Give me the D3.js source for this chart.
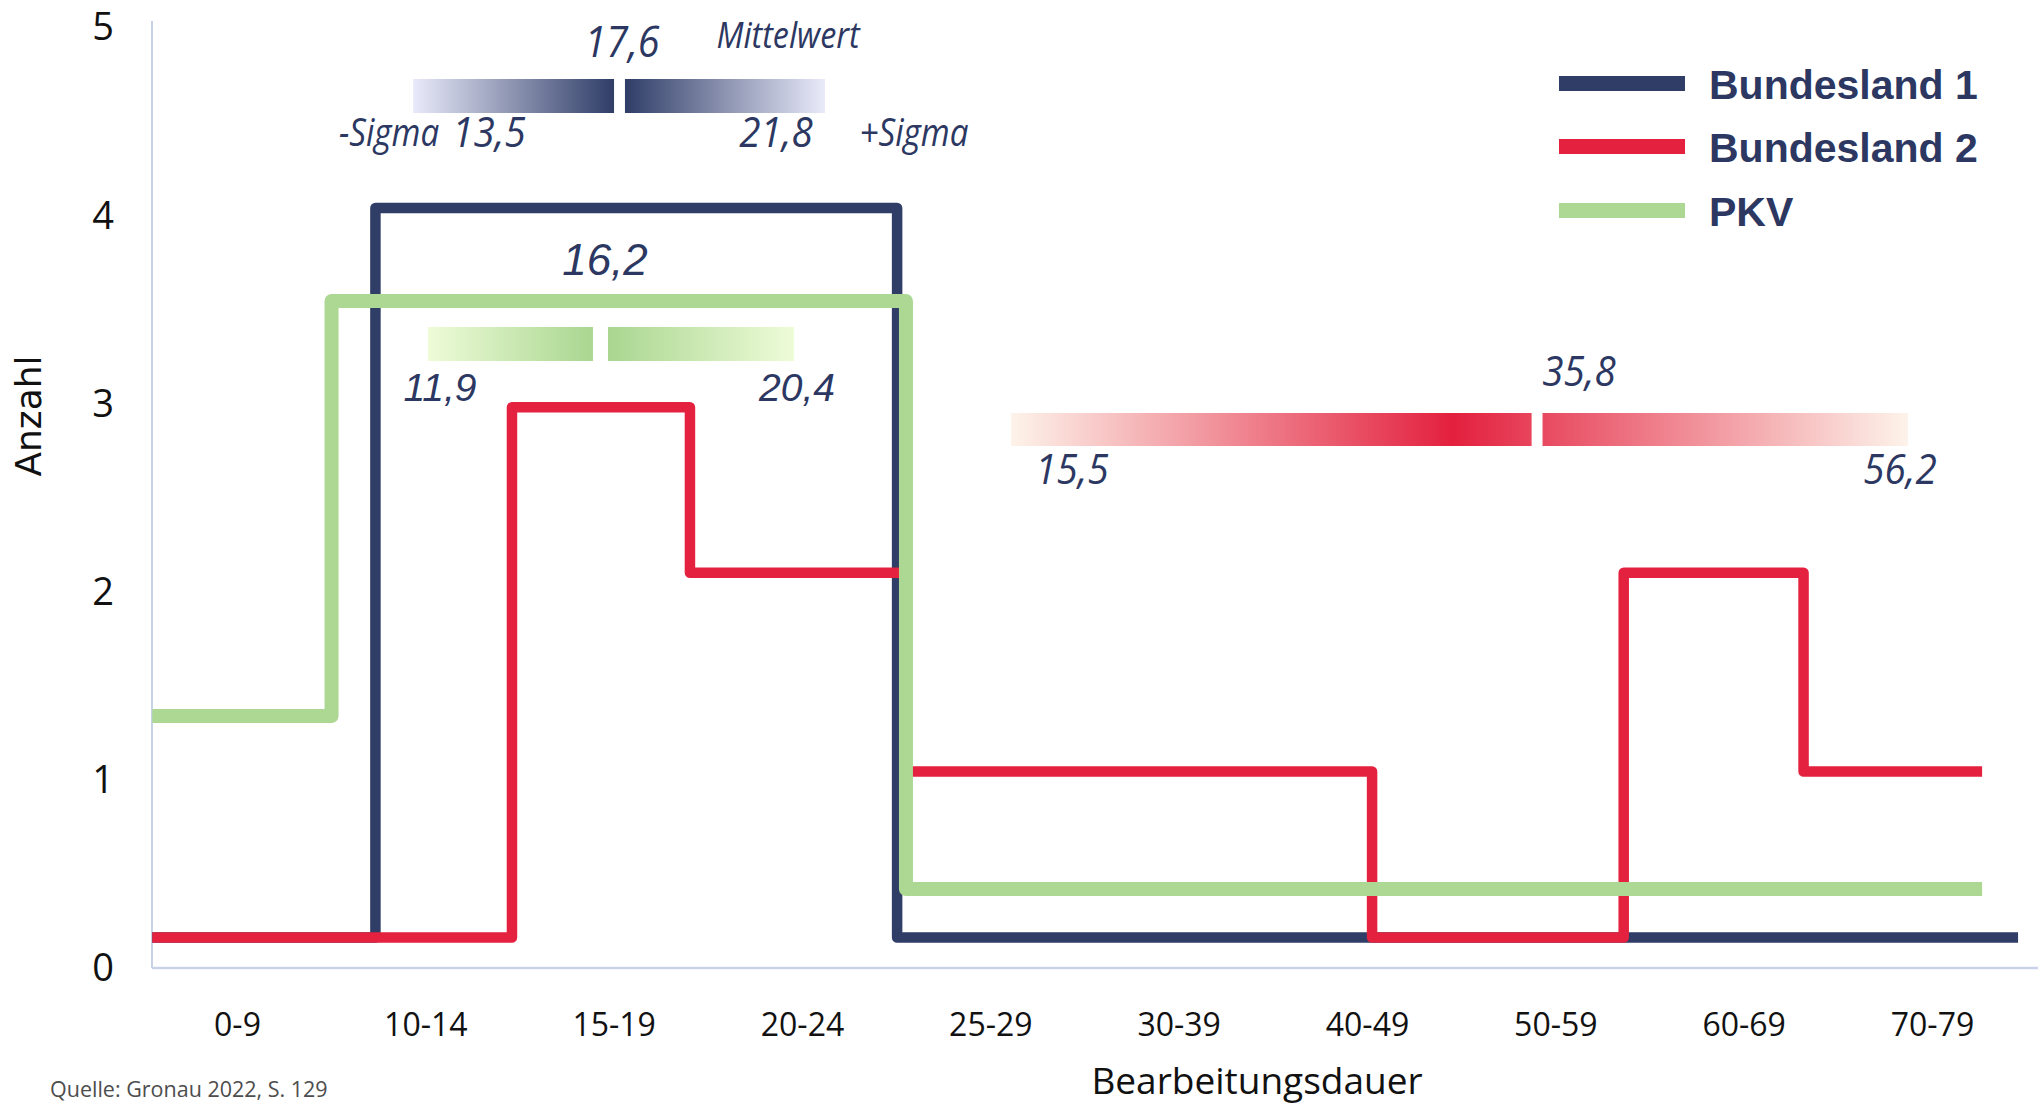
<!DOCTYPE html>
<html>
<head>
<meta charset="utf-8">
<script src="https://cdn.jsdelivr.net/npm/d3@7"></script>
<style>
html,body{margin:0;padding:0;background:#fff;}
svg{display:block;}
</style>
</head>
<body>
<svg id="chart" width="2038" height="1106"></svg>
<script>
// ---------------- DATA ----------------
const categories = ["0-9","10-14","15-19","20-24","25-29","30-39","40-49","50-59","60-69","70-79"];
const yTicks = [0,1,2,3,4,5];
const seriesNames = ["Bundesland 1","Bundesland 2","PKV"];

// Step series: breakpoints in category-index units (0 = "0-9", 9 = "70-79"), one level per segment
const bl1Breaks = [-0.45, 0.735, 3.505, 9.457];
const bl1Levels = [0.162, 4.038, 0.162];
const bl2Breaks = [-0.45, 1.46, 2.405, 3.552, 6.027, 7.363, 8.318, 9.266];
const bl2Levels = [0.162, 2.98, 2.10, 1.044, 0.162, 2.10, 1.044];
const pkvBreaks = [-0.45, 0.502, 3.552, 9.266];
const pkvLevels = [1.339, 3.544, 0.42];

// Mean / sigma annotations
const sigmaSeries = ["Bundesland 1","PKV","Bundesland 2"];
const sigmaMean = ["17,6","16,2","35,8"];
const sigmaLow  = ["13,5","11,9","15,5"];
const sigmaHigh = ["21,8","20,4","56,2"];

const xTitle = "Bearbeitungsdauer";
const yTitle = "Anzahl";
const source = "Quelle: Gronau 2022, S. 129";

// ---------------- LAYOUT / STYLE ----------------
const W = 2038, H = 1106;
const colors = {"Bundesland 1":"#2f3d67","Bundesland 2":"#e4223f","PKV":"#acd894"};
const widths = {"Bundesland 1":10.5,"Bundesland 2":10.5,"PKV":14};
const navyText = "#2c3862";

function hasFont(name){
  const c = document.createElement('canvas').getContext('2d');
  const s = 'abcdefgMWil123,.';
  c.font = '40px monospace'; const w0 = c.measureText(s).width;
  c.font = `40px "${name}", monospace`; return c.measureText(s).width !== w0;
}
const narrowOK = hasFont('Liberation Sans Narrow');
const condFamily = narrowOK ? "'Liberation Sans Narrow'" : "'Open Sans'";
const condScale = narrowOK ? 1 : 0.8;

const svg = d3.select('#chart');
svg.append('rect').attr('width',W).attr('height',H).attr('fill','#fff');

const x  = d3.scalePoint().domain(categories).range([237,1932]);
const xi = d3.scaleLinear().domain([0,categories.length-1]).range([237,1932]);
const y  = d3.scaleLinear().domain([0,5]).range([968,27]);
const plotLeft = 152;

// axes lines
svg.append('line').attr('x1',plotLeft).attr('x2',plotLeft).attr('y1',21).attr('y2',y(0))
  .attr('stroke','#c9d3e8').attr('stroke-width',2);
svg.append('line').attr('x1',plotLeft).attr('x2',W).attr('y1',y(0)).attr('y2',y(0))
  .attr('stroke','#c9d3e8').attr('stroke-width',2.5);

const yAxis = svg.append('g').attr('transform',`translate(${plotLeft},0)`)
  .call(d3.axisLeft(y).tickValues(yTicks).tickSize(0).tickPadding(38).tickFormat(d3.format('d')));
yAxis.select('.domain').remove();
yAxis.selectAll('text').attr('font-family',"'Open Sans'").attr('font-size',38).attr('fill','#111')
  .attr('dy','0.34em');

const xAxis = svg.append('g').attr('transform',`translate(0,${y(0)})`)
  .call(d3.axisBottom(x).tickSize(0).tickPadding(45));
xAxis.select('.domain').remove();
xAxis.selectAll('text').attr('font-family',"'Open Sans'").attr('font-size',32).attr('fill','#111');

// titles
svg.append('text').attr('x',1257).attr('y',1094).attr('text-anchor','middle')
  .attr('font-family',"'Open Sans'").attr('font-size',37).attr('fill','#111').text(xTitle);
svg.append('text').attr('transform','translate(41,416) rotate(-90)').attr('text-anchor','middle')
  .attr('font-family',"'DejaVu Sans'").attr('font-size',36).attr('fill','#111').text(yTitle);
svg.append('text').attr('x',50).attr('y',1097)
  .attr('font-family',"'Open Sans'").attr('font-size',21.5).attr('fill','#4d4d4d').text(source);

// step lines
const series = [
  {name:"Bundesland 1", breaks:bl1Breaks, levels:bl1Levels},
  {name:"Bundesland 2", breaks:bl2Breaks, levels:bl2Levels},
  {name:"PKV",          breaks:pkvBreaks, levels:pkvLevels}
];
function stepPoints(b, l){
  const pts = l.map((v,i)=>[b[i],v]);
  pts.push([b[b.length-1], l[l.length-1]]);
  return pts;
}
const line = d3.line().x(d=>xi(d[0])).y(d=>y(d[1])).curve(d3.curveStepAfter);
svg.append('g').selectAll('path').data(series).join('path')
  .attr('d',d=>line(stepPoints(d.breaks,d.levels)))
  .attr('fill','none')
  .attr('stroke',d=>colors[d.name])
  .attr('stroke-width',d=>widths[d.name])
  .attr('stroke-linejoin','round')
  .attr('stroke-linecap','butt');

// sigma bars (layout in category-index units)
const barLayout = {
  "Bundesland 1": {l:0.935, g0:2.002, g1:2.060, r:3.122, peak:[2.002,2.060], y0:79, h:34,
                   light:"#e9eafa", dark:"#2f3d67"},
  "PKV":          {l:1.014, g0:1.890, g1:1.970, r:2.958, peak:[1.890,1.970], y0:327, h:34,
                   light:"#eefcd8", dark:"#a9d690"},
  "Bundesland 2": {l:4.110, g0:6.874, g1:6.932, r:8.873, peak:[6.457,6.457], y0:413, h:33,
                   light:"#fdf3ea", dark:"#e3203e"}
};
const defs = svg.append('defs');
sigmaSeries.forEach((s,i)=>{
  const L = barLayout[s];
  const x0 = xi(L.l), x1 = xi(L.r), span = x1-x0;
  const id = 'grad'+i;
  const g = defs.append('linearGradient').attr('id',id).attr('gradientUnits','userSpaceOnUse')
    .attr('x1',x0).attr('x2',x1).attr('y1',0).attr('y2',0);
  g.append('stop').attr('offset',0).attr('stop-color',L.light);
  g.append('stop').attr('offset',(xi(L.peak[0])-x0)/span).attr('stop-color',L.dark);
  g.append('stop').attr('offset',(xi(L.peak[1])-x0)/span).attr('stop-color',L.dark);
  g.append('stop').attr('offset',1).attr('stop-color',L.light);
  const grp = svg.append('g');
  grp.append('rect').attr('x',x0).attr('y',L.y0).attr('width',xi(L.g0)-x0).attr('height',L.h).attr('fill',`url(#${id})`);
  grp.append('rect').attr('x',xi(L.g1)).attr('y',L.y0).attr('width',x1-xi(L.g1)).attr('height',L.h).attr('fill',`url(#${id})`);
});

// annotation texts
function condText(cx, by, txt, size, sx){
  return svg.append('text')
    .attr('transform',`translate(${cx},${by}) scale(${condScale*(sx||1)},1)`)
    .attr('text-anchor','middle')
    .attr('font-family',condFamily).attr('font-style','italic')
    .attr('font-size',size).attr('fill',navyText).text(txt);
}
function italText(cx, by, txt, size){
  svg.append('text').attr('x',cx).attr('y',by).attr('text-anchor','middle')
    .attr('font-family',"'Liberation Sans'").attr('font-style','italic')
    .attr('font-size',size).attr('fill',navyText).text(txt);
}
const numSX = 1.15, wordSX = 1.09;
// Bundesland 1
condText(622, 57, sigmaMean[0], 43, numSX);
condText(788, 48, "Mittelwert", 37, wordSX);
condText(389, 146, "-Sigma", 38, wordSX);
condText(489, 147, sigmaLow[0], 42, numSX);
condText(776, 147, sigmaHigh[0], 42, numSX);
condText(914, 146, "+Sigma", 38, wordSX);
// PKV
italText(605, 275, sigmaMean[1], 44);
italText(440, 401, sigmaLow[1], 39);
italText(797, 401, sigmaHigh[1], 39);
// Bundesland 2
condText(1579, 386, sigmaMean[2], 42, numSX);
condText(1072, 484, sigmaLow[2], 42, numSX);
condText(1900, 484, sigmaHigh[2], 42, numSX);

// legend
const legendY = [83.5, 146.5, 210.5];
const lg = svg.append('g');
seriesNames.forEach((s,i)=>{
  lg.append('line').attr('x1',1559).attr('x2',1685).attr('y1',legendY[i]).attr('y2',legendY[i])
    .attr('stroke',colors[s]).attr('stroke-width',15);
  lg.append('text').attr('x',1709).attr('y',legendY[i]+15.5)
    .attr('font-family',"'Liberation Sans'").attr('font-weight','bold').attr('font-size',41)
    .attr('fill',navyText).text(s);
});
</script>
</body>
</html>
